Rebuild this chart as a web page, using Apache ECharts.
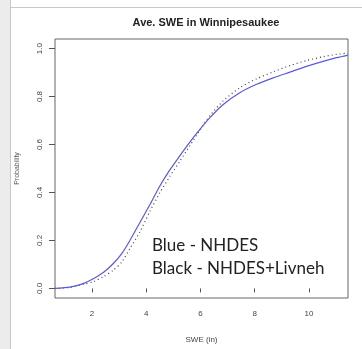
<!DOCTYPE html>
<html><head><meta charset="utf-8">
<script src="https://cdn.jsdelivr.net/npm/echarts@6/dist/echarts.min.js"></script>
<style>html,body{margin:0;padding:0;background:#fff;}#c{width:362px;height:349px;}</style>
</head><body><div id="c"></div>
<script>
// SWE (in) sample points
var sweX = [0.64,1.19,1.68,2.05,2.42,2.79,3.10,3.40,3.77,4.14,4.51,4.88,5.24,5.61,5.98,6.35,6.84,7.45,8.07,8.68,9.30,9.91,10.52,11.02,11.44];
// Blue - NHDES cumulative probability
var nhdes = [0.0,0.005,0.02,0.04,0.066,0.104,0.145,0.2,0.275,0.35,0.428,0.495,0.553,0.61,0.663,0.712,0.767,0.816,0.851,0.878,0.902,0.926,0.947,0.962,0.973];
// Black - NHDES+Livneh cumulative probability
var nhdesLivneh = [0.0,0.004,0.017,0.028,0.049,0.076,0.11,0.166,0.236,0.322,0.40,0.468,0.53,0.595,0.66,0.72,0.782,0.837,0.874,0.903,0.929,0.95,0.966,0.976,0.981];
var xTicks = [2,4,6,8,10];
var yTicks = [0,0.2,0.4,0.6,0.8,1.0];
var yTickLabels = ['0.0','0.2','0.4','0.6','0.8','1.0'];

function pairs(xs, ys){ return xs.map(function(x,i){return [x, ys[i]];}); }

var chart = echarts.init(document.getElementById('c'), null, {renderer:'canvas'});
chart.setOption({
  backgroundColor:'#fff',
  animation:false,
  title:{text:'Ave. SWE in Winnipesaukee', left:201, top:12, textAlign:'center',
    textStyle:{fontFamily:'Liberation Sans', fontSize:11, fontWeight:'bold', color:'#222'}},
  grid:{left:55, right:14, top:39, bottom:49, show:true, borderColor:'#666', borderWidth:1, backgroundColor:'transparent'},
  xAxis:{type:'value', min:0.64, max:11.44,
    name:'SWE (in)', nameLocation:'middle', nameGap:38,
    nameTextStyle:{fontFamily:'Liberation Sans', fontSize:8, color:'#444'},
    axisLine:{show:false},
    axisTick:{show:true, length:4, customValues:xTicks, lineStyle:{color:'#555'}},
    axisLabel:{customValues:xTicks, fontFamily:'Liberation Sans', fontSize:8, color:'#444', margin:12},
    splitLine:{show:false}},
  yAxis:{type:'value', min:-0.04, max:1.04,
    name:'Probability', nameLocation:'middle', nameGap:34, nameRotate:90,
    nameTextStyle:{fontFamily:'Liberation Sans', fontSize:7, color:'#555'},
    axisLine:{show:false},
    axisTick:{show:true, length:6, customValues:yTicks, lineStyle:{color:'#555'}},
    axisLabel:{customValues:yTicks, rotate:90, fontFamily:'Liberation Sans', fontSize:8, color:'#444', margin:11,
      formatter:function(v){ var i=yTicks.indexOf(Math.round(v*10)/10); return i>=0?yTickLabels[i]:''; }},
    splitLine:{show:false}},
  series:[
    {type:'line', data:pairs(sweX, nhdesLivneh), symbol:'none', smooth:0.25,
      lineStyle:{color:'#444', width:1.2, type:[1,3]}},
    {type:'line', data:pairs(sweX, nhdes), symbol:'none', smooth:0.25,
      lineStyle:{color:'#5a5ae0', width:1.2}}
  ],
  graphic:[
    {type:'rect', shape:{x:0,y:0,width:10,height:349}, style:{fill:'#ececec'}, z:-1},
    {type:'line', shape:{x1:10.5,y1:0,x2:10.5,y2:349}, style:{stroke:'#c8c8c8', lineWidth:1}, z:-1},
    {type:'line', shape:{x1:10,y1:7.5,x2:362,y2:7.5}, style:{stroke:'#c8c8c8', lineWidth:1}, z:-1},
    {type:'text', left:152, top:237, style:{text:'Blue - NHDES', font:'17px Lato', fill:'#222'}},
    {type:'text', left:152, top:260, style:{text:'Black - NHDES+Livneh', font:'17px Lato', fill:'#222'}}
  ]
});
</script></body></html>
